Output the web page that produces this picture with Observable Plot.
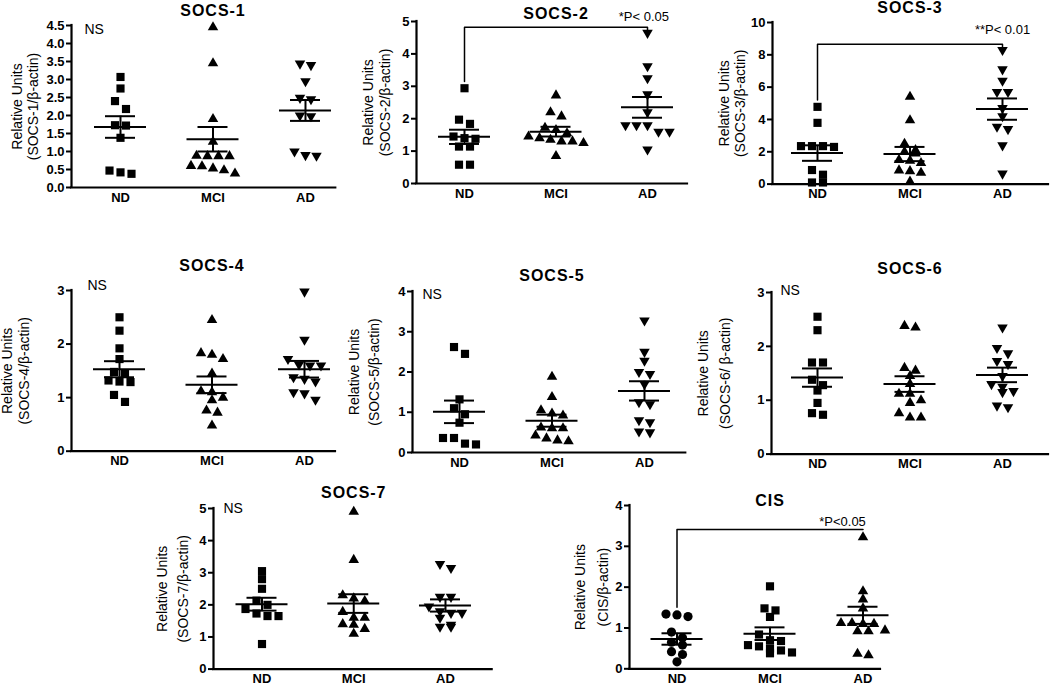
<!DOCTYPE html>
<html><head><meta charset="utf-8">
<script src="https://cdn.jsdelivr.net/npm/d3@7"></script>
<script src="https://cdn.jsdelivr.net/npm/@observablehq/plot@0.6"></script>
<style>
body{margin:0;background:#fff;}
#chart{position:relative;width:1050px;height:686px;overflow:hidden;background:#fff;}
#chart svg{position:absolute;overflow:visible;}
.ttl text{letter-spacing:1px;}
</style>
</head><body><div id="chart"></div>
<script>
const groups = ["ND", "MCI", "AD"];

// SOCS-1
const socs1_ND  = [3.07, 2.75, 2.40, 2.18, 1.73, 1.72, 1.38, 0.47, 0.38, 0.42];
const socs1_MCI = [4.45, 3.45, 1.90, 1.27, 0.87, 0.87, 0.88, 0.87, 0.60, 0.53, 0.39, 0.48, 0.59];
const socs1_AD  = [3.44, 3.40, 2.95, 2.49, 2.45, 2.00, 1.98, 1.00, 0.88, 0.90];
const socs1_mean = [1.68, 1.34, 2.14];
const socs1_sem  = [0.30, 0.34, 0.29];
const socs1_ticks = [0, 0.5, 1, 1.5, 2, 2.5, 3, 3.5, 4, 4.5];

// SOCS-2
const socs2_ND  = [2.94, 1.97, 1.84, 1.45, 1.40, 1.38, 1.14, 1.14, 0.58, 0.58];
const socs2_MCI = [2.72, 2.20, 2.07, 1.72, 1.65, 1.55, 1.45, 1.40, 1.35, 1.30, 1.30, 1.25, 0.85];
const socs2_AD  = [4.65, 3.62, 3.25, 2.75, 2.20, 1.80, 1.80, 1.80, 1.60, 1.60, 1.05];
const socs2_mean = [1.44, 1.60, 2.35];
const socs2_sem  = [0.22, 0.15, 0.32];
const socs2_ticks = [0, 1, 2, 3, 4, 5];
const socs2_sig = [3.15, 4.82, 4.72];

// SOCS-3
const socs3_ND  = [4.78, 3.79, 2.35, 2.35, 2.30, 2.35, 0.87, 0.58, 0.10, 0.10];
const socs3_MCI = [5.40, 3.95, 2.50, 2.10, 2.00, 1.90, 1.50, 1.45, 1.30, 0.85, 0.80, 0.70, 0.15];
const socs3_AD  = [8.30, 7.10, 6.40, 5.70, 5.70, 4.70, 4.20, 3.55, 3.40, 2.40, 0.65];
const socs3_mean = [1.92, 1.86, 4.64];
const socs3_sem  = [0.48, 0.44, 0.66];
const socs3_ticks = [0, 2, 4, 6, 8, 10];
const socs3_sig = [5.2, 8.66, 8.5];

// SOCS-4
const socs4_ND  = [2.50, 2.25, 1.92, 1.72, 1.48, 1.45, 1.32, 1.30, 1.29, 1.05, 0.92];
const socs4_MCI = [2.45, 1.83, 1.80, 1.72, 1.45, 1.12, 1.10, 1.00, 0.95, 0.76, 0.72, 0.48];
const socs4_AD  = [2.98, 2.08, 1.72, 1.62, 1.60, 1.60, 1.38, 1.35, 1.30, 1.10, 1.08, 0.96];
const socs4_mean = [1.53, 1.24, 1.53];
const socs4_sem  = [0.15, 0.155, 0.155];
const socs4_ticks = [0, 1, 2, 3];

// SOCS-5
const socs5_ND  = [2.62, 2.45, 1.32, 1.10, 0.95, 0.74, 0.36, 0.36, 0.20, 0.22];
const socs5_MCI = [1.88, 1.38, 1.05, 0.97, 0.92, 0.60, 0.60, 0.62, 0.35, 0.28, 0.30, 0.42];
const socs5_AD  = [3.28, 2.50, 2.28, 2.00, 1.95, 1.70, 1.25, 1.20, 0.80, 0.75, 0.52, 0.50];
const socs5_mean = [1.01, 0.79, 1.53];
const socs5_sem  = [0.28, 0.15, 0.24];
const socs5_ticks = [0, 1, 2, 3, 4];

// SOCS-6
const socs6_ND  = [2.55, 2.30, 1.70, 1.70, 1.38, 1.28, 1.18, 0.95, 0.73, 0.76];
const socs6_MCI = [2.35, 2.38, 1.60, 1.55, 1.45, 1.30, 1.12, 1.12, 1.00, 0.95, 0.76, 0.68, 0.68];
const socs6_AD  = [2.35, 1.97, 1.87, 1.73, 1.67, 1.45, 1.30, 1.25, 1.17, 1.15, 0.87, 0.90];
const socs6_mean = [1.42, 1.30, 1.47];
const socs6_sem  = [0.17, 0.145, 0.135];
const socs6_ticks = [0, 1, 2, 3];

// SOCS-7
const socs7_ND  = [3.05, 2.80, 2.50, 2.13, 2.00, 1.87, 1.65, 1.65, 1.73, 0.78];
const socs7_MCI = [4.90, 3.40, 2.30, 2.20, 2.12, 1.78, 1.60, 1.60, 1.40, 1.38, 1.25, 1.10];
const socs7_AD  = [3.27, 3.15, 2.25, 2.25, 1.95, 1.80, 1.75, 1.75, 1.60, 1.38, 1.32, 1.32];
const socs7_mean = [2.02, 2.04, 1.98];
const socs7_sem  = [0.20, 0.29, 0.19];
const socs7_ticks = [0, 1, 2, 3, 4, 5];

// CIS
const cis_ND  = [1.32, 1.28, 1.34, 0.90, 0.76, 0.65, 0.58, 0.42, 0.35, 0.17];
const cis_MCI = [2.02, 1.48, 1.43, 1.27, 0.84, 0.70, 0.68, 0.55, 0.58, 0.45, 0.38, 0.40, 0.50];
const cis_AD  = [3.22, 1.90, 1.70, 1.48, 1.10, 1.10, 1.12, 1.12, 0.92, 0.92, 0.94, 0.33, 0.37];
const cis_mean = [0.73, 0.86, 1.31];
const cis_sem  = [0.14, 0.155, 0.21];
const cis_ticks = [0, 1, 2, 3, 4];
const cis_sig = [1.51, 3.41, 3.41];

const FONT = "'Liberation Sans', Arial, Helvetica, sans-serif";
const S3 = Math.sqrt(3);
const triUp = {draw(ctx, size){ const y = -Math.sqrt(size / (S3 * 3)); ctx.moveTo(0, y * 2); ctx.lineTo(-S3 * y, -y); ctx.lineTo(S3 * y, -y); ctx.closePath(); }};
const triDown = {draw(ctx, size){ const y = Math.sqrt(size / (S3 * 3)); ctx.moveTo(0, y * 2); ctx.lineTo(-S3 * y, -y); ctx.lineTo(S3 * y, -y); ctx.closePath(); }};
const SYM = {
  square: {symbol: "square", r: 4.6},
  circle: {symbol: "circle", r: 4.6},
  up: {symbol: triUp, r: 3.9},
  down: {symbol: triDown, r: 3.9}
};

const panels = [
  {title: "SOCS-1", series: [socs1_ND, socs1_MCI, socs1_AD], mean: socs1_mean, sem: socs1_sem, ticks: socs1_ticks, fmt: d3.format(".1f"),
   label: ["Relative Units", "(SOCS-1/β-actin)"], sym: ["square", "up", "down"],
   frame: {x0: 70.7, top: 25, bottom: 187, right: 335, c0: 49, c2: 234}, titleDy: -15, labDx: [-54, -38.4], ns: [13, 4]},
  {title: "SOCS-2", series: [socs2_ND, socs2_MCI, socs2_AD], mean: socs2_mean, sem: socs2_sem, ticks: socs2_ticks, fmt: d3.format("d"),
   label: ["Relative Units", "(SOCS-2/β-actin)"], sym: ["square", "up", "down"],
   frame: {x0: 416, top: 21, bottom: 183, right: 687, c0: 48, c2: 231}, titleDy: -8, labDx: [-47.7, -31],
   sig: socs2_sig, sigText: "*P< 0.05", sigPos: [1.96, 5.15]},
  {title: "SOCS-3", series: [socs3_ND, socs3_MCI, socs3_AD], mean: socs3_mean, sem: socs3_sem, ticks: socs3_ticks, fmt: d3.format("d"),
   label: ["Relative Units", "(SOCS-3/β-actin)"], sym: ["square", "up", "down"],
   frame: {x0: 772, top: 21.7, bottom: 183.3, right: 1048, c0: 45, c2: 230}, titleDy: -14.5, labDx: [-48.4, -31.7],
   sig: socs3_sig, sigText: "**P< 0.01", sigPos: [2.0, 9.55]},
  {title: "SOCS-4", series: [socs4_ND, socs4_MCI, socs4_AD], mean: socs4_mean, sem: socs4_sem, ticks: socs4_ticks, fmt: d3.format("d"),
   label: ["Relative Units", "(SOCS-4/β-actin)"], sym: ["square", "up", "down"],
   frame: {x0: 71, top: 290, bottom: 450.7, right: 335, c0: 48, c2: 233}, titleDy: -25, labDx: [-64.3, -47], ns: [16, -5]},
  {title: "SOCS-5", series: [socs5_ND, socs5_MCI, socs5_AD], mean: socs5_mean, sem: socs5_sem, ticks: socs5_ticks, fmt: d3.format("d"),
   label: ["Relative Units", "(SOCS-5/β-actin)"], sym: ["square", "up", "down"],
   frame: {x0: 411.7, top: 290.7, bottom: 451.7, right: 685, c0: 47, c2: 232}, titleDy: -15.7, labDx: [-58.4, -38.4], ns: [10, 3]},
  {title: "SOCS-6", series: [socs6_ND, socs6_MCI, socs6_AD], mean: socs6_mean, sem: socs6_sem, ticks: socs6_ticks, fmt: d3.format("d"),
   label: ["Relative Units", "(SOCS-6/ β-actin)"], sym: ["square", "up", "down"],
   frame: {x0: 771, top: 291.7, bottom: 453.3, right: 1048, c0: 46, c2: 231}, titleDy: -23.7, labDx: [-67.7, -46], ns: [9, -2]},
  {title: "SOCS-7", series: [socs7_ND, socs7_MCI, socs7_AD], mean: socs7_mean, sem: socs7_sem, ticks: socs7_ticks, fmt: d3.format("d"),
   label: ["Relative Units", "(SOCS-7/β-actin)"], sym: ["square", "up", "down"],
   frame: {x0: 213.3, top: 507.7, bottom: 668.3, right: 492, c0: 48.5, c2: 232}, titleDy: -15.7, labDx: [-51, -30], ns: [10, 0]},
  {title: "CIS", series: [cis_ND, cis_MCI, cis_AD], mean: cis_mean, sem: cis_sem, ticks: cis_ticks, fmt: d3.format("d"),
   label: ["Relative Units", "(CIS/β-actin)"], sym: ["circle", "square", "up"],
   frame: {x0: 629, top: 505, bottom: 668.3, right: 880, c0: 47.5, c2: 233.5}, titleDy: -5, labDx: [-49, -26],
   sig: cis_sig, sigText: "*P<0.05", sigPos: [1.78, 3.59]}
];

function dodge(vals, gi, ppy, s, thresh = 8, gap = 11) {
  const order = d3.range(vals.length).sort((a, b) => vals[b] - vals[a]);
  const rows = [];
  let cur = null;
  for (const i of order) {
    if (cur && (cur.start - vals[i]) * ppy < thresh) cur.items.push(i);
    else { cur = {start: vals[i], items: [i]}; rows.push(cur); }
  }
  const out = [];
  for (const r of rows) {
    const k = r.items.length;
    r.items.forEach((i, j) => out.push({g: gi, v: vals[i], x: gi + (j - (k - 1) / 2) * gap / s}));
  }
  return out;
}

const chart = document.getElementById("chart");
const ML = 80, MT = 36, MR = 8, MB = 28;

for (const p of panels) {
  const f = p.frame;
  const L = f.right - f.x0, H = f.bottom - f.top;
  const s = (f.c2 - f.c0) / 2;
  const xDomain = [-f.c0 / s, (L - f.c0) / s];
  const yMax = p.ticks[p.ticks.length - 1];
  const ppy = H / yMax;
  const stats = groups.map((g, i) => ({g: i, mean: p.mean[i], lo: p.mean[i] - p.sem[i], hi: p.mean[i] + p.sem[i]}));
  const meanHalf = 26 / s, semHalf = 15 / s;

  const marks = [
    Plot.axisY({ticks: p.ticks, tickFormat: p.fmt, tickSize: 5, tickPadding: 2, strokeWidth: 2, label: null}),
    Plot.axisX({ticks: [0, 1, 2], tickFormat: i => groups[i], tickSize: 0, tickPadding: 5, label: null}),
    Plot.ruleX([xDomain[0]], {y1: 0, y2: yMax, strokeWidth: 2.2, strokeLinecap: "square"}),
    Plot.ruleY([0], {strokeWidth: 2.2, strokeLinecap: "square"})
  ];
  p.series.forEach((vals, gi) => {
    const pts = dodge(vals, gi, ppy, s);
    const sy = SYM[p.sym[gi]];
    marks.push(Plot.dot(pts, {x: "x", y: "v", symbol: sy.symbol, r: sy.r, fill: "black", stroke: "none"}));
  });
  marks.push(
    Plot.ruleY(stats, {y: "mean", x1: d => d.g - meanHalf, x2: d => d.g + meanHalf, strokeWidth: 2}),
    Plot.ruleY(stats, {y: "hi", x1: d => d.g - semHalf, x2: d => d.g + semHalf, strokeWidth: 2}),
    Plot.ruleY(stats, {y: "lo", x1: d => d.g - semHalf, x2: d => d.g + semHalf, strokeWidth: 2}),
    Plot.ruleX(stats, {x: "g", y1: "lo", y2: "hi", strokeWidth: 2}),
    Plot.text([p.title], {x: 1, frameAnchor: "top", dy: p.titleDy, lineAnchor: "middle", fontWeight: "bold", fontSize: 16, className: "ttl"}),
    Plot.text([p.label[0]], {frameAnchor: "left", dx: p.labDx[0], rotate: -90, textAnchor: "middle", lineAnchor: "middle", fontSize: 14, fontWeight: "normal"}),
    Plot.text([p.label[1]], {frameAnchor: "left", dx: p.labDx[1], rotate: -90, textAnchor: "middle", lineAnchor: "middle", fontSize: 14, fontWeight: "normal"})
  );
  if (p.ns) {
    marks.push(Plot.text(["NS"], {frameAnchor: "top-left", dx: p.ns[0], dy: p.ns[1], textAnchor: "start", lineAnchor: "middle", fontSize: 14, fontWeight: "normal"}));
  }
  if (p.sig) {
    const br = [{x: 0, y: p.sig[0]}, {x: 0, y: p.sig[1]}, {x: 2, y: p.sig[1]}, {x: 2, y: p.sig[2]}];
    marks.push(Plot.line(br, {x: "x", y: "y", strokeWidth: 1.5}));
    marks.push(Plot.text([p.sigText], {x: p.sigPos[0], y: p.sigPos[1], lineAnchor: "middle", fontSize: 13, fontWeight: "normal"}));
  }

  const svg = Plot.plot({
    width: ML + L + MR, height: MT + H + MB,
    marginLeft: ML, marginRight: MR, marginTop: MT, marginBottom: MB,
    x: {type: "linear", domain: xDomain, axis: null},
    y: {type: "linear", domain: [0, yMax], axis: null},
    style: {fontFamily: FONT, fontSize: "13px", fontWeight: "bold", color: "black", background: "transparent", overflow: "visible"},
    marks
  });
  svg.style.left = (f.x0 - ML) + "px";
  svg.style.top = (f.top - MT) + "px";
  chart.appendChild(svg);
}
</script>
</body></html>
